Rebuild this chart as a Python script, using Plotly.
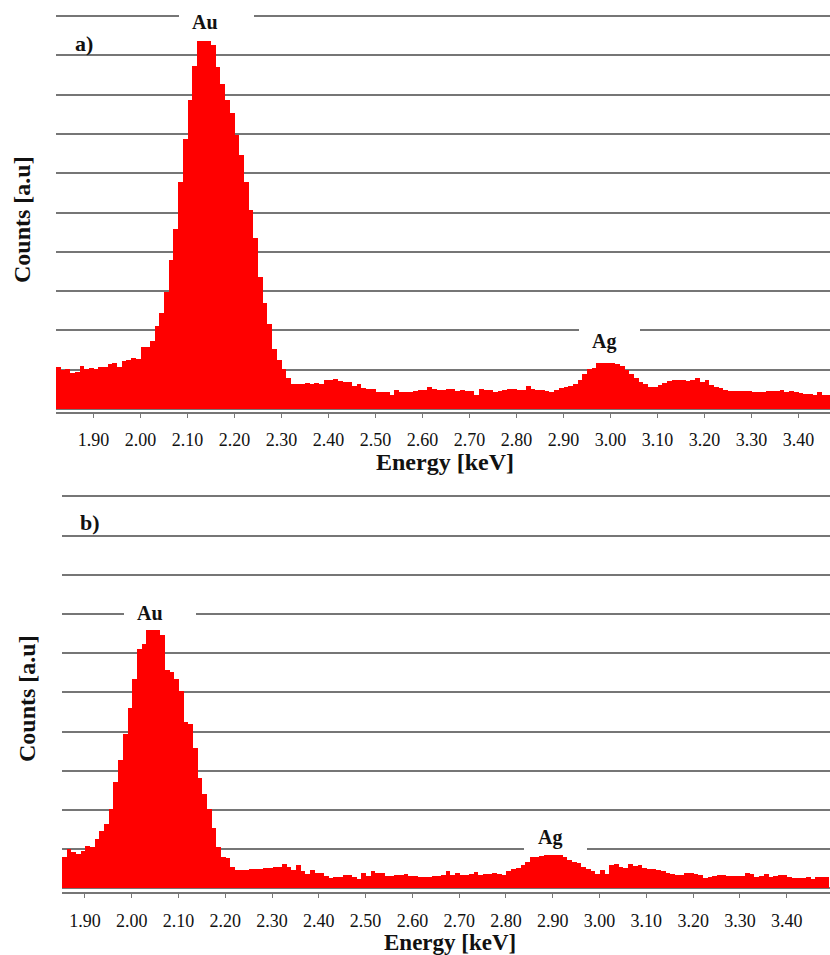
import numpy as np
import plotly.graph_objects as go

# ---------------- data ----------------
BIN_WIDTH = 0.01  # keV
top_start = 1.82
bottom_start = 1.85

top_counts = [
    1.06, 0.99, 1.03, 0.92, 0.95, 1.09, 1.03, 1.05, 1.01, 1.08, 1.08, 1.14, 1.18, 1.08, 1.22, 1.25, 1.29, 1.26,
    1.57, 1.58, 1.73, 2.12, 2.45, 2.98, 3.79, 4.59, 5.78, 6.88, 7.86, 8.72, 9.37, 9.37, 9.37, 9.26,
    8.70, 8.28, 7.86, 7.52, 6.97, 6.46, 5.78, 5.06, 4.34, 3.36, 2.69, 2.16, 1.52, 1.25, 1.01, 0.78, 0.63, 0.63,
    0.63, 0.65, 0.64, 0.65, 0.63, 0.74, 0.74, 0.76, 0.71, 0.68, 0.68, 0.59, 0.63, 0.53, 0.50, 0.50, 0.43, 0.43,
    0.43, 0.35, 0.48, 0.42, 0.42, 0.44, 0.46, 0.48, 0.48, 0.55, 0.50, 0.48, 0.48, 0.50, 0.50, 0.47, 0.48, 0.47,
    0.47, 0.36, 0.50, 0.48, 0.48, 0.44, 0.47, 0.48, 0.52, 0.50, 0.48, 0.48, 0.59, 0.50, 0.48, 0.48, 0.47, 0.42,
    0.48,
    0.53, 0.57, 0.58, 0.63, 0.74, 0.89, 1.03, 1.05, 1.18, 1.18, 1.18, 1.16, 1.14, 1.09, 0.99, 0.89, 0.78, 0.69,
    0.63, 0.57, 0.55, 0.61, 0.67, 0.72, 0.74, 0.74, 0.73, 0.72, 0.75, 0.78, 0.69, 0.74, 0.61, 0.57, 0.53, 0.48,
    0.46, 0.46, 0.46, 0.45, 0.45, 0.44, 0.44, 0.44, 0.45, 0.45, 0.47, 0.48, 0.43, 0.45, 0.42, 0.40, 0.38, 0.38,
    0.36, 0.42, 0.36, 0.36,
]

bottom_counts = [
    0.79, 1.00, 0.92, 0.87, 0.95, 1.08, 1.06, 1.26, 1.47, 1.64, 2.03, 2.70, 3.27, 3.94, 4.61, 5.34, 6.10, 6.23,
    6.59, 6.59, 6.59, 6.46, 5.57, 5.53, 5.33, 5.03, 4.23, 4.18, 3.57, 2.81, 2.41, 2.02, 1.53, 1.06, 0.79, 0.77,
    0.55, 0.47, 0.47, 0.47, 0.48,
    0.50, 0.50, 0.53, 0.51, 0.54, 0.54, 0.62, 0.55, 0.47, 0.60, 0.43, 0.37, 0.47, 0.38, 0.40, 0.31, 0.26, 0.30,
    0.30, 0.34, 0.34, 0.28, 0.23, 0.40, 0.31, 0.43, 0.38, 0.40, 0.32, 0.32, 0.34, 0.34, 0.37, 0.32, 0.31, 0.28,
    0.30, 0.30, 0.32, 0.32, 0.34, 0.43, 0.34, 0.40, 0.34, 0.34, 0.37, 0.42, 0.34, 0.37, 0.37, 0.38, 0.37, 0.34,
    0.45, 0.48, 0.51, 0.60, 0.68, 0.79, 0.79,
    0.82, 0.86, 0.86, 0.86, 0.86, 0.81, 0.72, 0.68, 0.64, 0.55, 0.48, 0.43, 0.37, 0.47, 0.37, 0.60, 0.62, 0.55,
    0.51, 0.62, 0.57, 0.60, 0.51, 0.49, 0.48, 0.47, 0.43, 0.38, 0.36, 0.34, 0.34, 0.38, 0.38, 0.37, 0.34, 0.26,
    0.28, 0.31, 0.34, 0.33, 0.31, 0.31, 0.31, 0.31, 0.40, 0.36, 0.30, 0.31, 0.36, 0.30, 0.31, 0.33, 0.34, 0.28,
    0.26, 0.26, 0.26, 0.30, 0.23, 0.28, 0.30, 0.30,
]

tick_values = [1.90, 2.00, 2.10, 2.20, 2.30, 2.40, 2.50, 2.60, 2.70, 2.80, 2.90, 3.00, 3.10, 3.20, 3.30, 3.40]
tick_labels = ["1.90", "2.00", "2.10", "2.20", "2.30", "2.40", "2.50", "2.60",
               "2.70", "2.80", "2.90", "3.00", "3.10", "3.20", "3.30", "3.40"]

x_top = np.round(top_start + BIN_WIDTH * (np.arange(len(top_counts)) + 0.5), 4)
x_bot = np.round(bottom_start + BIN_WIDTH * (np.arange(len(bottom_counts)) + 0.5), 4)

# ---------------- figure ----------------
W, H = 830, 955
FONT = "Liberation Serif, Times New Roman, serif"
RED = "#ff0000"
GRID = "#767676"

def px(xp):
    return xp / W

def py(yp):
    return 1 - yp / H

fig = go.Figure()
fig.add_trace(go.Bar(x=x_top, y=top_counts, width=BIN_WIDTH, marker=dict(color=RED, line=dict(width=0)),
                     xaxis="x", yaxis="y", showlegend=False, hoverinfo="x+y"))
fig.add_trace(go.Bar(x=x_bot, y=bottom_counts, width=BIN_WIDTH, marker=dict(color=RED, line=dict(width=0)),
                     xaxis="x2", yaxis="y2", showlegend=False, hoverinfo="x+y"))

xaxis_common = dict(
    tickmode="array", tickvals=tick_values, ticktext=tick_labels,
    ticks="outside", ticklen=4, tickwidth=1.2, tickcolor=GRID,
    showline=True, linecolor=GRID, linewidth=1.6,
    showgrid=False, zeroline=False,
    ticklabelstandoff=7,
    tickfont=dict(family=FONT, size=18, color="#111"),
)
yaxis_common = dict(
    tickmode="linear", tick0=0, dtick=1,
    showticklabels=False, ticks="",
    showgrid=True, gridcolor=GRID, gridwidth=1.6,
    zeroline=False, showline=False,
)

top_unit = 39.3
bot_unit = 39.2

fig.update_layout(
    width=W, height=H,
    margin=dict(l=0, r=0, t=0, b=0),
    paper_bgcolor="white", plot_bgcolor="white",
    bargap=0,
    xaxis=dict(domain=[px(56), 1], range=[1.82, 3.467], anchor="y", **xaxis_common),
    yaxis=dict(domain=[py(412), py(8)], range=[-3 / top_unit, -3 / top_unit + 404 / top_unit],
               anchor="x", **yaxis_common),
    xaxis2=dict(domain=[px(61.5), 1], range=[1.85, 3.4925], anchor="y2", **xaxis_common),
    yaxis2=dict(domain=[py(892.3), py(490)], range=[-4 / bot_unit, -4 / bot_unit + 402.3 / bot_unit],
                anchor="x2", **yaxis_common),
)

# white gaps in the gridlines behind the peak labels
gaps = [
    (179, 254, 16),
    (579, 640, 330.4),
    (124, 196, 614.3),
    (524, 587, 849.7),
]
shapes = []
for x0, x1, yc in gaps:
    shapes.append(dict(type="rect", xref="paper", yref="paper", layer="above",
                       x0=px(x0), x1=px(x1), y0=py(yc + 2.5), y1=py(yc - 2.5),
                       fillcolor="white", line=dict(width=0)))
fig.update_layout(shapes=shapes)

def label(text, xc, yc, size=20, angle=0):
    fig.add_annotation(text=f"<b>{text}</b>", x=px(xc), y=py(yc), xref="paper", yref="paper",
                       showarrow=False, xanchor="center", yanchor="middle", textangle=angle,
                       font=dict(family=FONT, size=size, color="#111"))

label("a)", 84, 43, size=22)
label("Au", 205, 22)
label("Ag", 604, 341.5)
label("b)", 90, 522, size=22)
label("Au", 150, 612.5)
label("Ag", 550, 837.5)

label("Counts [a.u]", 22, 220, size=24, angle=-90)
label("Counts [a.u]", 27, 699, size=24, angle=-90)
label("Energy [keV]", 445, 462, size=24)
label("Energy [keV]", 450, 942, size=23)

fig.write_html("out.html", post_script="document.body.style.margin='0px';",
               config={"displayModeBar": False})
